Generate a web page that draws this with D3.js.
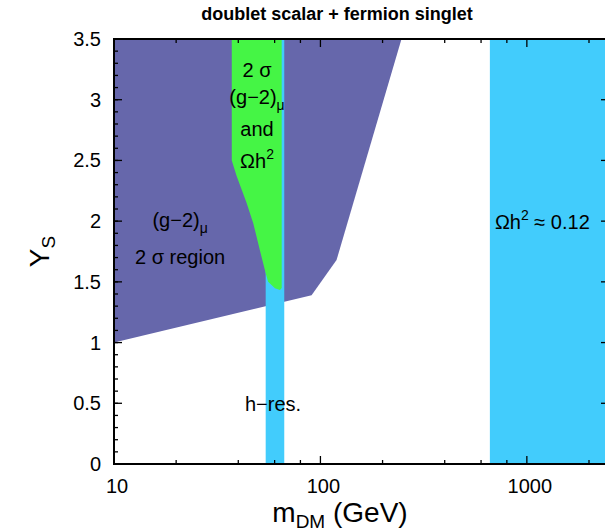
<!DOCTYPE html>
<html>
<head>
<meta charset="utf-8">
<script src="https://cdn.jsdelivr.net/npm/d3@7"></script>
<style>
  body { margin: 0; background: #fff; }
  svg { display: block; font-family: "Liberation Sans", Arial, Helvetica, sans-serif; }
</style>
</head>
<body>
<svg class="chart"></svg>
<script>
var width = 605;
var height = 531;

// axis ticks
var xMajorTicks = [10, 100, 1000];
var xMinorTicks = [20, 40, 60, 80, 200, 400, 600, 800, 2000];
var yMajorTicks = [0, 0.5, 1, 1.5, 2, 2.5, 3, 3.5];
var yMinorTicks = d3.range(0, 3.51, 0.1);

// (g-2)_mu 2 sigma region, [m_DM, Y_S]
var g2Region = [[10, 3.5], [10, 1.0], [90.6, 1.39], [119.7, 1.68], [247, 3.5]];
// overlap of (g-2)_mu and relic density
var overlapRegion = [
  [37.2, 3.5], [37.2, 2.5], [39.3, 2.37], [43.9, 2.15], [47.3, 1.98],
  [50.9, 1.76], [54.3, 1.57], [55.8, 1.50], [60.2, 1.447], [63.7, 1.433],
  [64.9, 1.45], [64.9, 3.5]
];
// relic density bands (m_DM ranges)
var hResBand = [54.3, 66.8];
var relicBand = [662, 2500];

var margin = {top: 39, right: -4, bottom: 67, left: 114};

var chart = d3.select(".chart")
    .attr("width", width)
    .attr("height", height);

var x = d3.scaleLog()
  .domain([10, 2500])
  .range([margin.left, width - margin.right]);

var y = d3.scaleLinear()
  .domain([0, 3.5])
  .range([height - margin.bottom, margin.top]);

var purple = "#6667ab", green = "#45f545", cyan = "#42ccfc";

chart.append("clipPath").attr("id", "plot-clip")
  .append("rect")
    .attr("x", x(10)).attr("y", y(3.5))
    .attr("width", x(2500) - x(10)).attr("height", y(0) - y(3.5));

var area = chart.append("g").attr("clip-path", "url(#plot-clip)");

var line = d3.line()
  .x(function(d){ return x(d[0]); })
  .y(function(d){ return y(d[1]); });

area.append("path")
  .attr("d", line(g2Region) + "Z")
  .attr("fill", purple);

// h resonance band
area.append("rect")
  .attr("x", x(hResBand[0]))
  .attr("width", x(hResBand[1]) - x(hResBand[0]))
  .attr("y", y(3.5))
  .attr("height", y(0) - y(3.5))
  .attr("fill", cyan);

area.append("path")
  .attr("d", line(overlapRegion) + "Z")
  .attr("fill", green);

area.append("rect")
  .attr("x", x(relicBand[0]))
  .attr("width", x(relicBand[1]) - x(relicBand[0]))
  .attr("y", y(3.5))
  .attr("height", y(0) - y(3.5))
  .attr("fill", cyan);

// annotations
var fs = 20;
function label(mx, vy, anchor){
  return chart.append("text")
    .attr("x", x(mx)).attr("y", y(vy))
    .attr("text-anchor", anchor)
    .attr("font-size", fs)
    .attr("fill", "#000");
}
var t = label(20.9, 1.95, "middle");
t.append("tspan").text("(g\u22122)");
t.append("tspan").attr("font-size", 14).attr("dy", 6).text("\u03bc");
label(20.9, 1.65, "middle").text("2 \u03c3 region");

label(49.3, 3.19, "middle").text("2 \u03c3");
t = label(49.3, 2.965, "middle");
t.append("tspan").text("(g\u22122)");
t.append("tspan").attr("font-size", 14).attr("dy", 6).text("\u03bc");
label(49.3, 2.70, "middle").text("and");
t = label(49.3, 2.44, "middle");
t.append("tspan").text("\u03a9h");
t.append("tspan").attr("font-size", 14).attr("dy", -9).text("2");

label(43.1, 0.435, "start").text("h\u2212res.");

t = label(700, 1.935, "start");
t.append("tspan").text("\u03a9h");
t.append("tspan").attr("font-size", 14).attr("dy", -9).text("2");
t.append("tspan").attr("dy", 9).text(" \u2248 0.12");

// frame
var x0 = x(10), x1 = x(2500), y0 = y(0), y1 = y(3.5);
chart.append("rect")
  .attr("x", x0).attr("y", y1)
  .attr("width", x1 - x0).attr("height", y0 - y1)
  .attr("fill", "none").attr("stroke", "#000").attr("stroke-width", 2);

var ticks = chart.append("g").attr("stroke", "#000").attr("stroke-width", 1.3);
xMajorTicks.forEach(function(v){
  ticks.append("line").attr("x1", x(v)).attr("x2", x(v)).attr("y1", y0).attr("y2", y0 - 8);
  ticks.append("line").attr("x1", x(v)).attr("x2", x(v)).attr("y1", y1).attr("y2", y1 + 8);
});
xMinorTicks.forEach(function(v){
  ticks.append("line").attr("x1", x(v)).attr("x2", x(v)).attr("y1", y0).attr("y2", y0 - 4);
  ticks.append("line").attr("x1", x(v)).attr("x2", x(v)).attr("y1", y1).attr("y2", y1 + 4);
});
yMinorTicks.forEach(function(v){
  ticks.append("line").attr("x1", x0).attr("x2", x0 + 4).attr("y1", y(v)).attr("y2", y(v));
  ticks.append("line").attr("x1", x1).attr("x2", x1 - 4).attr("y1", y(v)).attr("y2", y(v));
});
yMajorTicks.forEach(function(v){
  ticks.append("line").attr("x1", x0).attr("x2", x0 + 8).attr("y1", y(v)).attr("y2", y(v));
  ticks.append("line").attr("x1", x1).attr("x2", x1 - 8).attr("y1", y(v)).attr("y2", y(v));
});

// tick labels
chart.append("g").selectAll("text")
  .data(xMajorTicks)
  .join("text")
    .attr("x", function(d){ return x(d) + 3; })
    .attr("y", y0 + 29)
    .attr("text-anchor", "middle")
    .attr("font-size", 20)
    .text(function(d){ return d; });

chart.append("g").selectAll("text")
  .data(yMajorTicks)
  .join("text")
    .attr("x", x0 - 13)
    .attr("y", function(d){ return y(d) + 7; })
    .attr("text-anchor", "end")
    .attr("font-size", 20)
    .text(function(d){ return d; });

// axis titles
var xt = chart.append("text")
  .attr("x", 340).attr("y", 522)
  .attr("text-anchor", "middle")
  .attr("font-size", 28);
xt.append("tspan").text("m");
xt.append("tspan").attr("font-size", 19).attr("dy", 6).text("DM");
xt.append("tspan").attr("dy", -6).text(" (GeV)");

var yt = chart.append("text")
  .attr("transform", "translate(49," + y(1.75) + ") rotate(-90)")
  .attr("text-anchor", "middle")
  .attr("font-size", 28);
yt.append("tspan").text("Y");
yt.append("tspan").attr("font-size", 19).attr("dy", 6).text("S");

chart.append("text")
  .attr("x", 337).attr("y", 20)
  .attr("text-anchor", "middle")
  .attr("font-size", 18)
  .attr("font-weight", "bold")
  .text("doublet scalar + fermion singlet");
</script>
</body>
</html>
